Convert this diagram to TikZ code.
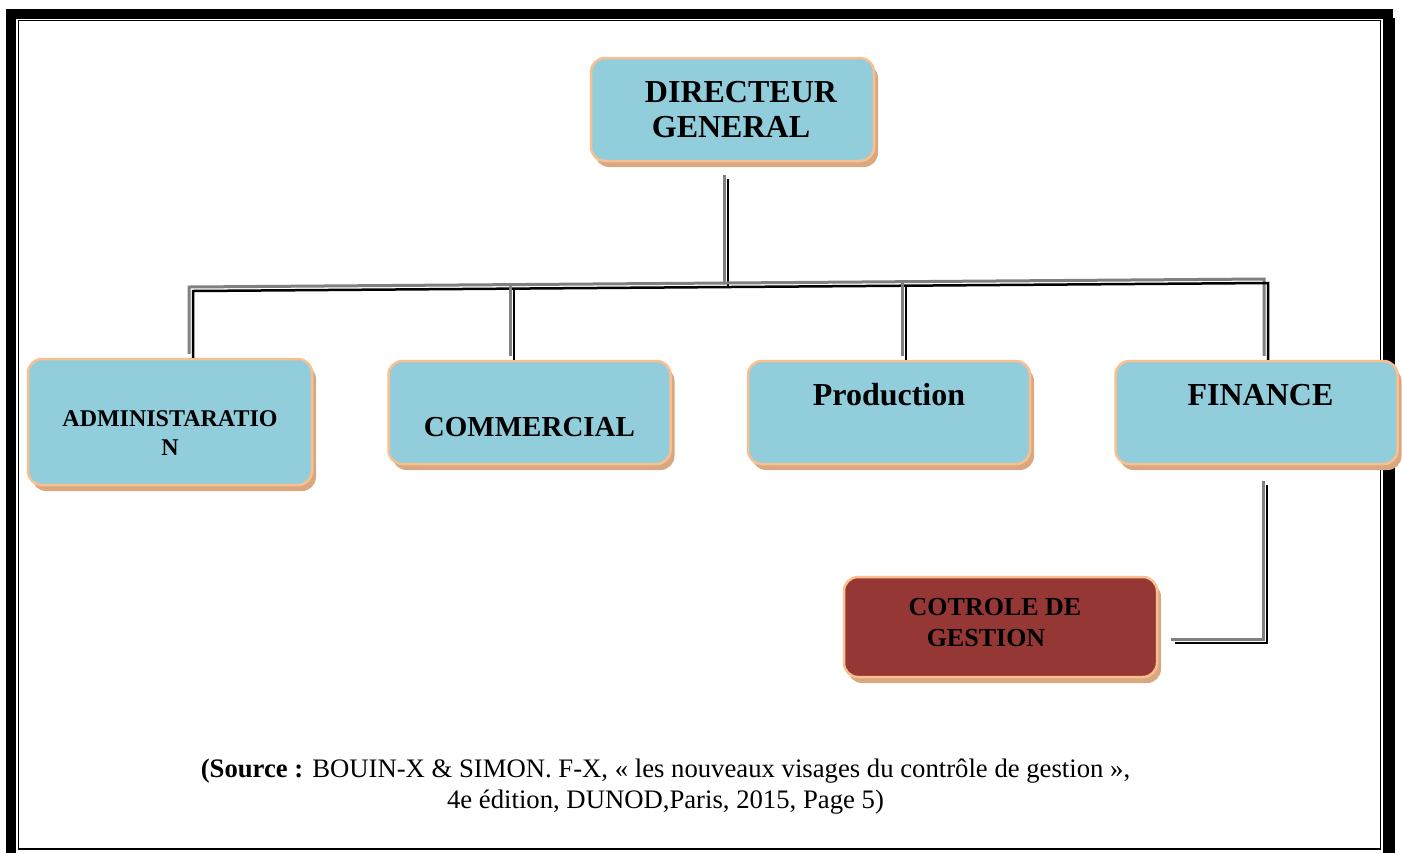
\documentclass[tikz,border=0pt]{standalone}
\usepackage{fontspec}
\setmainfont{Liberation Serif}
\usepackage{tikz}
\usetikzlibrary{positioning, shadows}
\definecolor{aqua}{RGB}{146, 205, 220}
\definecolor{peach}{RGB}{250, 191, 143}
\definecolor{tanshade}{RGB}{217, 168, 128}
\definecolor{brick}{RGB}{149, 55, 53}
\definecolor{linkgray}{RGB}{128, 128, 128}

\begin{document}
\begin{tikzpicture}[x=1pt, y=-1pt,
    orgbox/.style={draw=peach, line width=2.5pt, fill=aqua, rounded corners=14pt,
      minimum width=282pt, minimum height=103pt, align=center, inner sep=0pt,
      drop shadow={shadow xshift=4pt, shadow yshift=-6pt, fill=tanshade, opacity=1}},
    link/.style={line width=2.5pt, draw=black,
      preaction={draw=linkgray, line width=3pt, transform canvas={shift={(-4pt,4pt)}}}}
  ]
  \useasboundingbox (0,0) rectangle (1402,852);

  % page frame
  \draw[line width=10pt] (11,870) -- (11,13.5) -- (1387.5,13.5) -- (1387.5,870);
  \draw[line width=1.5pt] (18.5,20.5) rectangle (1380.5,849);
  \draw[line width=1.5pt] (1394,18) -- (1394,870);

  % boxes
  \node[orgbox, minimum width=283pt, text height=56.2pt, text depth=0pt,
    font=\bfseries\fontsize{32}{35}\selectfont] (dg) at (732.5,109.5)
    {\hspace*{17pt}DIRECTEUR\\GENERAL\hspace*{3pt}};
  \node[orgbox, minimum width=284pt, minimum height=126pt, text height=67pt, text depth=0pt,
    font=\bfseries\fontsize{24}{29}\selectfont] (admin) at (170,422)
    {ADMINISTARATIO\\N};
  \node[orgbox, right=74pt of admin.north east, anchor=north west, yshift=-2pt,
    text height=48pt, text depth=0pt, font=\bfseries\fontsize{29}{34}\selectfont] (commercial)
    {COMMERCIAL};
  \node[orgbox, right=75pt of commercial.north east, anchor=north west,
    text height=22pt, text depth=36pt, font=\bfseries\fontsize{32}{35}\selectfont] (production)
    {Production};
  \node[orgbox, right=83pt of production.north east, anchor=north west,
    text height=22pt, text depth=36pt, font=\bfseries\fontsize{32}{35}\selectfont] (finance)
    {\hspace*{8pt}FINANCE};
  \node[orgbox, fill=brick, minimum width=313pt, minimum height=100pt,
    text height=39.4pt, text depth=0pt, font=\bfseries\fontsize{26}{31}\selectfont] (ctg) at (1000.5,627)
    {COTROLE DE\hspace*{11pt}\\GESTION\hspace*{29pt}};

  % connectors
  \coordinate (dgtap) at (728,179);
  \coordinate (bus-l) at (193,291);
  \coordinate (bus-r) at (1268,283);
  \coordinate (bus-c) at (514,288.6);
  \coordinate (bus-p) at (906,285.7);
  \coordinate (bus-dg) at (728,287);
  \draw[link] (dgtap) -- (bus-dg);
  \draw[link] (bus-l |- admin.north) -- (bus-l) -- (bus-r) -- (bus-r |- finance.north);
  \draw[link] (bus-c) -- (bus-c |- commercial.north);
  \draw[link] (bus-p) -- (bus-p |- production.north);
  \coordinate (fintap) at (1267,485);
  \coordinate (ctgend) at (1175,643);
  \draw[link] (fintap) |- (ctgend);

  % source
  \node[anchor=base, align=center, font=\fontsize{26.7}{31}\selectfont] (source) at (665.5,808)
    {\textbf{(Source :} BOUIN-X \& SIMON. F-X, « les nouveaux visages du contrôle de gestion »,\\
     4e édition, DUNOD,Paris, 2015, Page 5)};
\end{tikzpicture}
\end{document}
